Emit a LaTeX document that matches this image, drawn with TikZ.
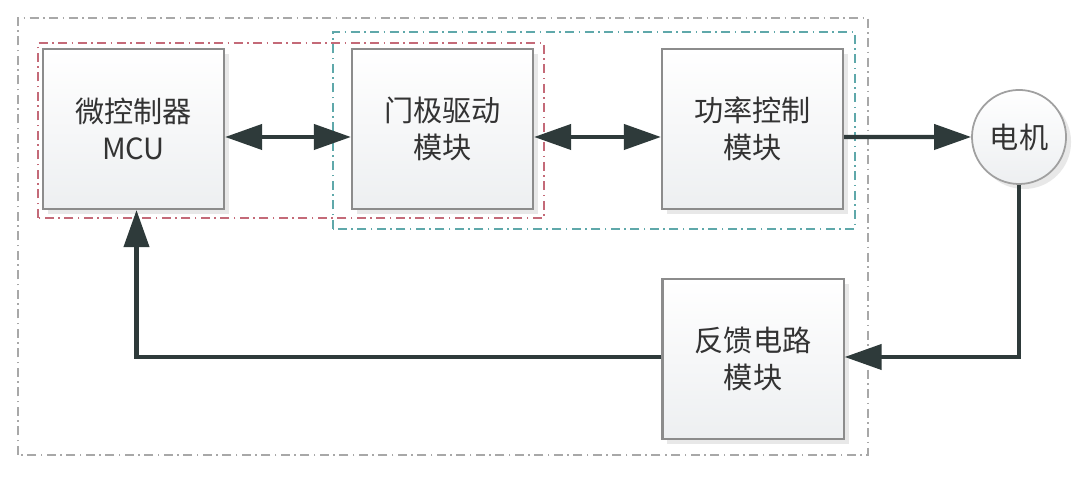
\documentclass[tikz,border=0pt]{standalone}
\usepackage{fontspec}
\setmainfont{Noto Sans CJK SC}
\usetikzlibrary{arrows.meta,shadows,shadings}
\definecolor{arrowc}{HTML}{2E3A3A}
\definecolor{boxline}{HTML}{8C8C8C}
\definecolor{motorline}{HTML}{A0A0A0}
\definecolor{txt}{HTML}{333333}
\definecolor{redd}{HTML}{C46A78}
\definecolor{cyand}{HTML}{5FA8AA}
\definecolor{outerd}{HTML}{A8A8A8}
\definecolor{boxbot}{HTML}{EDEFF1}
\tikzset{
  blk/.style={draw=boxline, line width=0.6pt, minimum width=1.81cm, minimum height=1.60cm,
    top color=white, bottom color=boxbot, align=center, text=txt,
    font=\fontsize{8.3pt}{10.5pt}\selectfont,
    drop shadow={shadow xshift=0.05cm, shadow yshift=-0.05cm, fill=black!15, opacity=0.6}},
  motorc/.style={circle, draw=motorline, line width=0.5pt, minimum size=0.94cm, inner sep=0pt,
    top color=white, bottom color=boxbot, text=txt,
    font=\fontsize{8.3pt}{10.5pt}\selectfont,
    drop shadow={shadow xshift=0.05cm, shadow yshift=-0.05cm, fill=black!15, opacity=0.6}},
  conn/.style={draw=arrowc, line width=1.15pt},
  BT/.tip={Triangle[length=0.37cm,width=0.25cm]},
  outerbox/.style={draw=outerd, line width=0.5pt, dash pattern=on 0.09cm off 0.045cm on 0.015cm off 0.045cm},
  redbox/.style={draw=redd, line width=0.5pt, dash pattern=on 0.09cm off 0.045cm on 0.015cm off 0.045cm},
  cyanbox/.style={draw=cyand, line width=0.5pt, dash pattern=on 0.09cm off 0.045cm on 0.015cm off 0.045cm},
}
\begin{document}
\begin{tikzpicture}[x=0.01cm,y=0.01cm]
\useasboundingbox (0,0) rectangle (1080,480);
\fill[white] (0,0) rectangle (1080,480);
% group frames
\draw[outerbox] (18,25) rectangle (868,462);
\draw[cyanbox] (333,251) rectangle (855,448);
\draw[redbox] (38,262) rectangle (544,437);
% blocks
\node[blk] (mcu) at (133.5,351) {微控制器\\MCU};
\node[blk] (gate) at (442.5,351) {门极驱动\\模块};
\node[blk] (pwr) at (752.5,351) {功率控制\\模块};
\node[blk] (fb) at (753,121) {反馈电路\\模块};
\node[motorc] (motor) at (1019,343) {电机};
% connectors
\draw[conn, BT-BT] ([yshift=-0.08cm]mcu.east) -- ([yshift=-0.08cm]gate.west);
\draw[conn, BT-BT] ([yshift=-0.08cm]gate.east) -- ([yshift=-0.08cm]pwr.west);
\draw[conn, -BT] ([yshift=-0.08cm]pwr.east) -- (motor.west);
\draw[conn, -BT] (motor.south) |- ([yshift=0.02cm]fb.east);
\draw[conn, -BT] ([yshift=0.02cm]fb.west) -| ([xshift=0.03cm]mcu.south);
\end{tikzpicture}
\end{document}
